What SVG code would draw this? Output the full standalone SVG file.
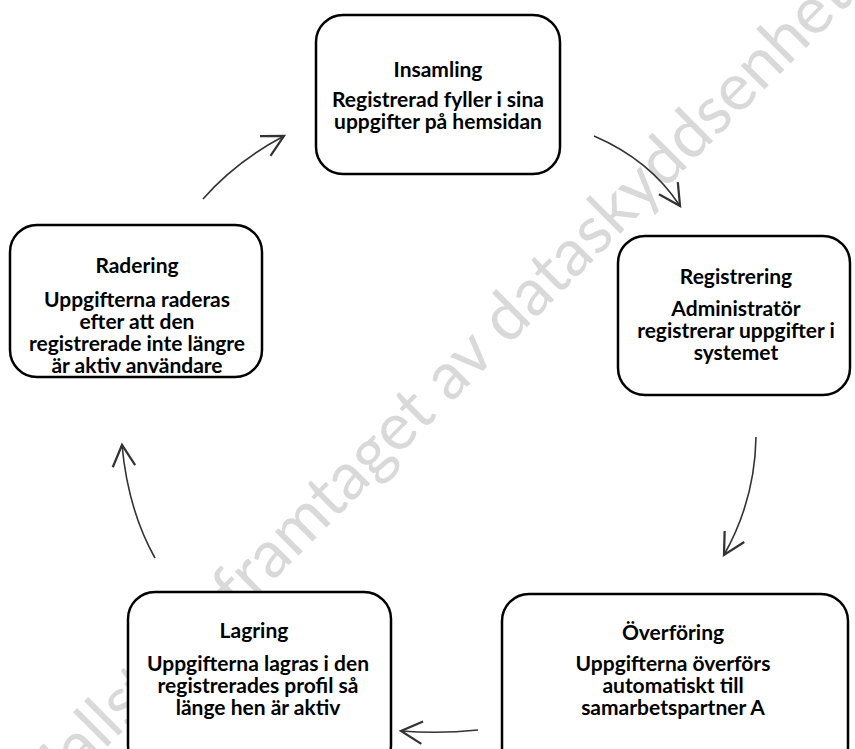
<svg xmlns="http://www.w3.org/2000/svg" width="855" height="749" viewBox="0 0 855 749">
<defs>
<style>
.wm{font-family:Lato,"Open Sans",sans-serif;font-size:66px;fill:#d9d9d9}
.box{fill:#fff;stroke:#000;stroke-width:2.5}
.t{font-family:Lato,"Liberation Sans",sans-serif;font-weight:bold;font-size:21px;fill:#000;text-anchor:middle}
.c{fill:none;stroke:#333;stroke-width:1.6}
</style>
<marker id="ah" markerUnits="userSpaceOnUse" markerWidth="30" markerHeight="30" viewBox="-20 -12 24 24" refX="0" refY="0" orient="auto">
<path d="M-17,-9 L0,0 L-17,9" fill="none" stroke="#333" stroke-width="1.8"/>
</marker>
</defs>
<rect width="855" height="749" fill="#fff"/>
<text class="wm" transform="translate(239,615) rotate(-45)"><tspan x="0" text-anchor="end">Mallstext </tspan><tspan x="0">framtaget av dataskyddsenheten</tspan></text>
<g id="connectors">
<path class="c" d="M203,199 Q235,162 284,136" marker-end="url(#ah)"/>
<path class="c" d="M594,136 Q650,160 680,206" marker-end="url(#ah)"/>
<path class="c" d="M756,437 Q755,500 724,555" marker-end="url(#ah)"/>
<path class="c" d="M478,730 Q440,734 401,731" marker-end="url(#ah)"/>
<path class="c" d="M155,558 Q128,510 122,445" marker-end="url(#ah)"/>
</g>
<g id="insamling">
<rect class="box" x="316" y="15" width="244" height="159" rx="27"/>
<text class="t" x="438" y="77">Insamling</text>
<text class="t" x="438" y="107">Registrerad fyller i sina</text>
<text class="t" x="438" y="129">uppgifter på hemsidan</text>
</g>
<g id="registrering">
<rect class="box" x="618" y="236" width="232" height="159" rx="27"/>
<text class="t" x="736" y="284">Registrering</text>
<text class="t" x="736" y="316">Administratör</text>
<text class="t" x="736" y="338">registrerar uppgifter i</text>
<text class="t" x="736" y="360">systemet</text>
</g>
<g id="overforing">
<rect class="box" x="502" y="594" width="346" height="180" rx="27"/>
<text class="t" x="673" y="640">Överföring</text>
<text class="t" x="673" y="671">Uppgifterna överförs</text>
<text class="t" x="673" y="693">automatiskt till</text>
<text class="t" x="673" y="715">samarbetspartner A</text>
</g>
<g id="lagring">
<rect class="box" x="128" y="592" width="263" height="180" rx="27"/>
<text class="t" x="254" y="638">Lagring</text>
<text class="t" x="258" y="671">Uppgifterna lagras i den</text>
<text class="t" x="258" y="693">registrerades profil så</text>
<text class="t" x="258" y="715">länge hen är aktiv</text>
</g>
<g id="radering">
<rect class="box" x="10" y="225" width="252" height="152" rx="27"/>
<text class="t" x="137" y="273">Radering</text>
<text class="t" x="137" y="307">Uppgifterna raderas</text>
<text class="t" x="137" y="329">efter att den</text>
<text class="t" x="137" y="351">registrerade inte längre</text>
<text class="t" x="137" y="373">är aktiv användare</text>
</g>
</svg>
